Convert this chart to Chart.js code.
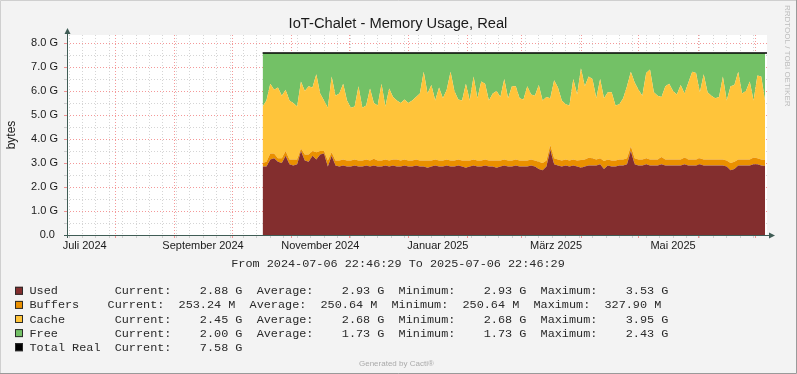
<!DOCTYPE html>
<html><head><meta charset="utf-8">
<script src="https://cdn.jsdelivr.net/npm/chart.js@4.4.1/dist/chart.umd.min.js"></script>
<style>html,body{margin:0;padding:0;background:#F3F3F3;overflow:hidden}canvas{display:block}</style>
</head><body>
<canvas id="c" width="797" height="374"></canvas>
<script>
// ---- time axis (days after 2024-07-06 22:46:29) ----
const sampleStartDay = 102;   // first sample (mid October 2024)
const sampleStepDays = 2;     // one sample every two days
const monthStartDays = [25.05, 56.05, 86.05, 117.05, 147.05, 178.05, 209.05, 237.05, 268.05, 298.05, 329.05, 359.05];
const firstMondayDay = 1.05;
const monthLabels = ['Juli 2024', 'September 2024', 'November 2024', 'Januar 2025', 'März 2025', 'Mai 2025'];
const monthLabelDays = [9.2, 70.9, 132.1, 193.4, 255.0, 316.0];

// ---- y axis ----
const yGridValues = [0, 0.5, 1, 1.5, 2, 2.5, 3, 3.5, 4, 4.5, 5, 5.5, 6, 6.5, 7, 7.5, 8];
const yTickLabels = ['0.0 ', '1.0 G', '2.0 G', '3.0 G', '4.0 G', '5.0 G', '6.0 G', '7.0 G', '8.0 G'];

// ---- series (GB) ----
const used = [2.85,2.85,3.15,3.2,3.05,3.0,3.3,2.95,2.9,2.95,
3.5,3.1,3.05,3.3,3.15,3.35,3.4,2.85,3.3,2.9,
2.85,2.9,2.85,2.85,2.9,2.85,2.85,2.9,2.85,2.9,
2.85,2.85,2.9,2.85,2.9,2.85,2.85,2.9,2.85,2.85,
2.9,2.85,2.85,2.8,2.85,2.9,2.85,2.85,2.9,2.85,
2.85,2.9,2.85,2.8,2.85,2.9,2.85,2.85,2.9,2.85,
2.85,2.8,2.85,2.9,2.85,2.85,2.9,2.85,2.85,2.85,
2.9,2.85,2.75,2.7,2.85,3.55,2.95,2.9,2.85,2.9,
2.85,2.9,2.85,2.8,2.85,2.9,2.9,2.9,2.95,2.75,
2.9,2.85,2.85,2.9,2.9,2.95,3.5,2.95,2.9,2.9,
2.95,2.9,2.9,2.9,2.95,2.9,2.9,2.9,2.9,2.9,
2.95,2.9,2.9,2.9,2.95,2.9,2.9,2.9,2.9,2.9,
2.9,2.85,2.7,2.75,2.9,2.9,2.9,2.9,2.95,2.95,
2.9,2.88];
const buffers = [0.15,0.2,0.25,0.2,0.15,0.2,0.2,0.2,0.25,0.2,
0.1,0.25,0.3,0.2,0.3,0.15,0.1,0.25,0.15,0.2,
0.25,0.25,0.25,0.25,0.25,0.25,0.25,0.25,0.25,0.28,
0.25,0.25,0.25,0.25,0.25,0.3,0.25,0.25,0.25,0.25,
0.25,0.25,0.25,0.3,0.25,0.25,0.25,0.25,0.25,0.25,
0.25,0.25,0.25,0.3,0.25,0.25,0.25,0.25,0.25,0.25,
0.25,0.3,0.25,0.25,0.25,0.25,0.25,0.25,0.25,0.25,
0.25,0.25,0.3,0.3,0.25,0.2,0.25,0.25,0.25,0.25,
0.25,0.25,0.25,0.32,0.3,0.32,0.3,0.25,0.25,0.33,
0.25,0.25,0.25,0.25,0.25,0.25,0.2,0.25,0.25,0.25,
0.25,0.25,0.25,0.25,0.3,0.25,0.25,0.25,0.25,0.25,
0.28,0.25,0.25,0.25,0.25,0.25,0.25,0.25,0.25,0.25,
0.25,0.25,0.3,0.3,0.25,0.25,0.25,0.25,0.28,0.25,
0.25,0.25];
const cache = [2.35,2.55,2.9,2.65,2.95,2.6,2.55,2.45,2.35,2.2,
2.8,2.65,2.85,2.65,3.25,2.4,2.1,2.2,3.15,2.7,
2.8,3.15,2.5,2.2,2.2,3.1,2.2,2.25,3.0,2.32,
2.3,3.2,2.2,3.0,2.6,2.45,2.4,2.5,2.4,2.5,
2.6,2.8,3.7,2.8,3.15,2.45,3.05,2.6,2.9,3.7,
2.9,2.5,2.5,3.2,2.5,3.45,2.6,3.3,3.15,2.5,
2.8,2.9,2.65,3.35,2.6,3.1,3.05,2.6,2.55,3.1,
2.7,2.7,3.2,2.6,2.65,1.95,3.25,3.0,2.5,2.3,
2.3,3.35,2.75,3.83,3.05,3.38,3.3,2.55,3.3,2.62,
2.8,2.85,2.3,2.3,2.55,3.0,3.1,3.15,2.9,2.65,
3.55,3.75,2.8,2.65,2.5,3.05,3.15,2.85,2.7,3.1,
2.67,3.2,3.65,3.6,2.75,3.55,2.8,2.65,2.55,2.6,
3.45,2.5,3.2,3.2,3.65,2.75,2.85,3.25,2.37,3.45,
3.45,2.45];
const free = [2.23,1.98,1.28,1.53,1.43,1.78,1.53,1.98,2.08,2.23,
1.18,1.58,1.38,1.43,0.88,1.68,1.98,2.28,0.98,1.78,
1.68,1.28,1.98,2.28,2.23,1.38,2.28,2.18,1.48,2.08,
2.18,1.28,2.23,1.48,1.83,1.98,2.08,1.93,2.08,1.98,
1.83,1.68,0.78,1.68,1.33,1.98,1.43,1.88,1.53,0.78,
1.58,1.93,1.98,1.28,1.98,0.98,1.88,1.18,1.28,1.98,
1.68,1.58,1.83,1.08,1.88,1.38,1.38,1.88,1.93,1.38,
1.73,1.78,1.33,1.98,1.83,1.88,1.13,1.43,1.98,2.13,
2.18,1.08,1.73,0.63,1.38,0.98,1.08,1.88,1.08,1.88,
1.63,1.63,2.18,2.13,1.88,1.38,0.78,1.23,1.53,1.78,
0.83,0.68,1.63,1.78,1.83,1.38,1.28,1.58,1.73,1.33,
1.68,1.23,0.78,0.83,1.63,0.88,1.63,1.78,1.88,1.83,
0.98,1.98,1.38,1.33,0.78,1.68,1.58,1.18,1.98,0.93,
0.98,2.0];
const totalReal = [7.58, 7.58];   // constant line across the sampled period

// ---- legend ----
const legendNames   = ['Used', 'Buffers', 'Cache', 'Free', 'Total Real'];
const legendCurrent = ['2.88 G', '253.24 M', '2.45 G', '2.00 G', '7.58 G'];
const legendAverage = ['2.93 G', '250.64 M', '2.68 G', '1.73 G', null];
const legendMinimum = ['2.93 G', '250.64 M', '2.68 G', '1.73 G', null];
const legendMaximum = ['3.53 G', '327.90 M', '3.95 G', '2.43 G', null];
const legendPad     = [8, 4, 7, 8, 2];

const COL = { used:'#832E2E', buffers:'#EA9000', cache:'#FFC43A', free:'#73C166', total:'#000000' };
const legendColors = [COL.used, COL.buffers, COL.cache, COL.free, COL.total];
const MAJ = 'rgba(235,70,70,0.55)';
const MIN = 'rgba(150,150,150,0.4)';
const AXIS = '#3F5C55';

const days = used.map((_, i) => sampleStartDay + i * sampleStepDays);
const pts = arr => arr.map((v, i) => ({ x: days[i], y: v }));
const weeklyDays = [];
for (let d = firstMondayDay; d < 365; d += 7) weeklyDays.push(d);
const xGridDays = weeklyDays.concat(monthStartDays);
const isMonth = v => monthStartDays.includes(v);

Chart.defaults.font.family = '"Liberation Sans", Arial, sans-serif';

const pad = (s, n) => s + ' '.repeat(n);

const deco = {
  id: 'deco',
  beforeDraw(chart) {
    const c = chart.ctx, a = chart.chartArea;
    c.save();
    c.fillStyle = '#F3F3F3';
    c.fillRect(0, 0, chart.width, chart.height);
    c.fillStyle = '#FFFFFF';
    c.fillRect(a.left, a.top, a.right - a.left, a.bottom - a.top);
    c.lineWidth = 1;
    c.strokeStyle = '#CFCFCF';
    c.beginPath(); c.moveTo(0.5, chart.height); c.lineTo(0.5, 0.5); c.lineTo(chart.width, 0.5); c.stroke();
    c.strokeStyle = '#9A9A9A';
    c.beginPath(); c.moveTo(0, chart.height - 0.5); c.lineTo(chart.width - 0.5, chart.height - 0.5); c.lineTo(chart.width - 0.5, 0); c.stroke();
    c.restore();
  },
  afterDraw(chart) {
    const c = chart.ctx, a = chart.chartArea;
    c.save();
    c.strokeStyle = AXIS; c.fillStyle = AXIS; c.lineWidth = 1;
    const yb = a.bottom + 0.5, xl = a.left + 0.5;
    c.beginPath(); c.moveTo(a.left - 3, yb); c.lineTo(a.right + 3, yb); c.stroke();
    c.beginPath(); c.moveTo(a.right + 8, yb); c.lineTo(a.right + 2, yb - 3); c.lineTo(a.right + 2, yb + 3); c.closePath(); c.fill();
    c.beginPath(); c.moveTo(xl, a.bottom + 3); c.lineTo(xl, a.top - 2); c.stroke();
    c.beginPath(); c.moveTo(xl, a.top - 7); c.lineTo(xl - 3, a.top - 1); c.lineTo(xl + 3, a.top - 1); c.closePath(); c.fill();

    c.fillStyle = '#1A1A1A';
    c.font = '14.7px "Liberation Sans"';
    c.textAlign = 'center'; c.textBaseline = 'alphabetic';
    c.fillText('IoT-Chalet - Memory Usage, Real', 398, 28);

    c.save();
    c.translate(787.5, 5);
    c.rotate(Math.PI / 2);
    c.font = '8px "Liberation Sans"';
    c.fillStyle = '#BDBDBD';
    c.textAlign = 'left'; c.textBaseline = 'middle';
    c.fillText('RRDTOOL / TOBI OETIKER', 0, 0);
    c.restore();

    c.font = '11.83px "Liberation Mono"';
    c.fillStyle = '#2A2A2A';
    c.textAlign = 'center'; c.textBaseline = 'alphabetic';
    c.fillText('From 2024-07-06 22:46:29 To 2025-07-06 22:46:29', 398, 266.5);

    c.textAlign = 'left';
    for (let i = 0; i < legendNames.length; i++) {
      const base = 294.3 + i * 14.1;
      c.fillStyle = legendColors[i];
      c.fillRect(15, base - 7.5, 8, 8);
      c.strokeStyle = '#2A2A2A';
      c.strokeRect(15.5, base - 7, 7, 7);
      let s = pad(legendNames[i], legendPad[i]) + 'Current:' + legendCurrent[i].padStart(10, ' ');
      if (legendAverage[i]) {
        s += '  Average:' + legendAverage[i].padStart(10, ' ');
        s += '  Minimum:' + legendMinimum[i].padStart(10, ' ');
        s += '  Maximum:' + legendMaximum[i].padStart(10, ' ');
      }
      c.fillStyle = '#2A2A2A';
      c.fillText(s, 29.5, base);
    }

    c.font = '8px "Liberation Sans"';
    c.fillStyle = '#AAAAAA';
    c.textAlign = 'left';
    c.fillText('Generated by Cacti®', 359, 366);
    c.restore();
  }
};

const area = (label, arr, color, fill) => ({
  label, data: pts(arr), backgroundColor: color, borderColor: color, borderWidth: 0,
  fill, stack: 'mem', pointRadius: 0, tension: 0
});

new Chart(document.getElementById('c'), {
  type: 'line',
  data: {
    datasets: [
      area('Used', used, COL.used, 'origin'),
      area('Buffers', buffers, COL.buffers, '-1'),
      area('Cache', cache, COL.cache, '-1'),
      area('Free', free, COL.free, '-1'),
      { label: 'Total Real', data: totalReal.map((v, i) => ({ x: i === 0 ? days[0] : days[days.length - 1] + 1, y: v })),
        borderColor: COL.total, borderWidth: 1.5, fill: false, stack: 'total', pointRadius: 0, order: -1 }
    ]
  },
  options: {
    responsive: false, animation: false, devicePixelRatio: 1, events: [],
    layout: { padding: { left: 0, top: 35, right: 30, bottom: 0 } },
    plugins: { legend: { display: false }, tooltip: { enabled: false }, title: { display: false } },
    scales: {
      x: {
        type: 'linear', min: 0, max: 365, position: 'bottom', weight: 0, z: 1,
        afterBuildTicks: s => { s.ticks = xGridDays.map(v => ({ value: v })); },
        afterFit: s => { s.height = 3; },
        ticks: { display: false, autoSkip: false },
        grid: { color: ctx => isMonth(ctx.tick.value) ? MAJ : MIN, lineWidth: 1, drawTicks: true, tickLength: 3 },
        border: { display: false, dash: [1, 2] }
      },
      xl: {
        type: 'linear', min: 0, max: 365, position: 'bottom', weight: 1,
        afterBuildTicks: s => { s.ticks = monthLabelDays.map(v => ({ value: v })); },
        afterFit: s => { s.height = 136; },
        ticks: { autoSkip: false, maxRotation: 0, minRotation: 0, padding: 1, color: '#1A1A1A', font: { size: 11 },
                 callback: (v, i) => monthLabels[i] },
        grid: { display: false, drawTicks: false },
        border: { display: false }
      },
      y: {
        type: 'linear', min: 0, max: 200 / 24, stacked: true, z: 1,
        afterBuildTicks: s => { s.ticks = yGridValues.map(v => ({ value: v })); },
        afterFit: s => { s.width = 67; },
        ticks: { autoSkip: false, padding: 6, color: '#1A1A1A', font: { size: 11 },
                 callback: v => Number.isInteger(v) ? yTickLabels[v] : '' },
        grid: { color: ctx => Number.isInteger(ctx.tick.value) ? MAJ : MIN, lineWidth: 1, tickLength: 3 },
        border: { display: false, dash: [1, 2] },
        title: { display: true, text: 'bytes', color: '#1A1A1A', font: { size: 12 }, padding: { top: 4, bottom: 0 } }
      }
    }
  },
  plugins: [deco]
});
</script>
</body></html>
